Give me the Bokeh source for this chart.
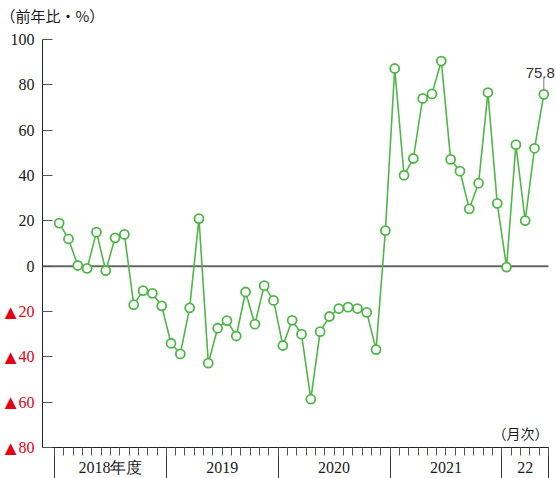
from bokeh.plotting import figure
from bokeh.models import (Range1d, LinearAxis, FixedTicker, Label,
                          LabelSet, ColumnDataSource)
from bokeh.embed import file_html
from bokeh.resources import INLINE

# Year-on-year change (%), monthly, FY2018 (April) to August 2022
values = [19, 12, 0.3, -1, 15, -2, 12.5, 14, -17, -10.8, -12, -17.5,
          -34, -38.7, -18.4, 21, -42.8, -27.4, -24, -30.8, -11.4, -25.6, -8.6, -15.1,
          -35, -23.9, -30, -58.7, -28.9, -22.2, -18.7, -18.1, -18.7, -20.4, -36.8, 15.7,
          87.2, 40.1, 47.5, 74, 76, 90.5, 47.1, 41.9, 25.3, 36.6, 76.6, 27.7,
          -0.4, 53.6, 20.1, 52, 75.8]
fiscal_years = ["2018年度", "2019", "2020", "2021", "22"]
months_per_year = [12, 12, 12, 12, 5]
y_ticks = [-80, -60, -40, -20, 0, 20, 40, 60, 80, 100]

W, H = 556, 478
# plotting area inside the canvas (px)
AX_LEFT, AX_RIGHT, AX_TOP, AX_BOTTOM = 42, 548, 39, 447
MONTHS_LEFT = 54  # first month starts here

GREEN = "#4fb747"
RED = "#e60012"
SERIF = "'Liberation Serif', 'Noto Sans CJK JP'"
CJK = "'Noto Sans CJK JP'"

n = len(values)
xs = list(range(n))
px_per_month = (AX_RIGHT - MONTHS_LEFT) / n
x_start = -0.5 - MONTHS_LEFT / px_per_month
x_end = (n - 0.5) + (W - AX_RIGHT) / px_per_month
y_lo, y_hi = y_ticks[0], y_ticks[-1]
px_per_unit = (AX_BOTTOM - AX_TOP) / (y_hi - y_lo)
y_end = y_hi + AX_TOP / px_per_unit
y_start = y_lo - (H - AX_BOTTOM) / px_per_unit


def dx(px):
    """canvas px from the left edge -> data x"""
    return x_start + px / px_per_month


def dy(px):
    """canvas px from the top edge -> data y"""
    return y_end - px / px_per_unit


p = figure(width=W, height=H, x_range=Range1d(x_start, x_end),
           y_range=Range1d(y_start, y_end), output_backend="svg",
           toolbar_location=None, x_axis_location=None, y_axis_location=None,
           min_border=0)
p.outline_line_color = None
p.grid.visible = False
p.background_fill_color = "white"
p.border_fill_color = "white"

# y axis: ticks point inward, negative labels drawn separately in red
yaxis = LinearAxis(ticker=FixedTicker(ticks=y_ticks),
                   fixed_location=dx(AX_LEFT), bounds=(y_lo, y_hi),
                   major_tick_in=10, major_tick_out=0,
                   minor_tick_in=0, minor_tick_out=0,
                   major_label_standoff=8,
                   major_label_text_font=SERIF,
                   major_label_text_font_size="16px",
                   major_label_text_color="#1a1a1a",
                   major_label_overrides={t: "" for t in y_ticks if t < 0},
                   axis_line_color="#222", major_tick_line_color="#555")
p.add_layout(yaxis, "left")

# negative values are written as a red triangle followed by the magnitude
neg = [t for t in y_ticks if t < 0]
neg_num = ColumnDataSource(dict(x=[dx(AX_LEFT - 8)] * len(neg), y=neg,
                                text=[str(-t) for t in neg]))
neg_tri = ColumnDataSource(dict(x=[dx(20)] * len(neg), y=neg,
                                text=["▲"] * len(neg)))
p.add_layout(LabelSet(source=neg_num, x="x", y="y", text="text",
                      text_align="right", text_baseline="middle",
                      text_color=RED, text_font=SERIF,
                      text_font_size="16px"))
p.add_layout(LabelSet(source=neg_tri, x="x", y="y", text="text",
                      text_align="right", text_baseline="middle",
                      text_color=RED, text_font="DejaVu Sans",
                      text_font_size="20px"))

# x axis: month ticks with fiscal-year separators
bounds = [-0.5]
for m in months_per_year:
    bounds.append(bounds[-1] + m)
month_bounds = [b - 0.5 for b in range(n + 1)]
xaxis = LinearAxis(ticker=FixedTicker(ticks=bounds, minor_ticks=month_bounds),
                   fixed_location=y_lo, bounds=(dx(AX_LEFT), bounds[-1]),
                   major_tick_in=0, major_tick_out=H - AX_BOTTOM,
                   minor_tick_in=0, minor_tick_out=8,
                   major_label_overrides={b: "" for b in bounds},
                   major_label_text_font_size="0px",
                   major_label_standoff=0,
                   axis_line_color="#222", major_tick_line_color="#333",
                   minor_tick_line_color="#555")
p.add_layout(xaxis, "below")

centers = [(bounds[i] + bounds[i + 1]) / 2 for i in range(len(fiscal_years))]
fy_src = ColumnDataSource(dict(x=centers, y=[dy(467)] * len(centers),
                               text=fiscal_years))
p.add_layout(LabelSet(source=fy_src, x="x", y="y", text="text",
                      text_align="center", text_baseline="middle",
                      text_color="#1a1a1a", text_font=SERIF,
                      text_font_size="16px"))

# zero line
p.segment(x0=[dx(AX_LEFT)], y0=[0], x1=[bounds[-1]], y1=[0],
          line_color="#666", line_width=2, level="underlay")

# series
p.line(xs, values, line_color=GREEN, line_width=1.6)
p.scatter(xs, values, size=9, fill_color="white", line_color=GREEN,
          line_width=1.8)

# latest value callout
last_x, last_v = xs[-1], values[-1]
p.segment(x0=[last_x], y0=[last_v + 4 / px_per_unit],
          x1=[last_x], y1=[last_v + 17 / px_per_unit],
          line_color="#777", line_width=1)
p.add_layout(Label(x=last_x, y=last_v, x_offset=11, y_offset=21,
                   text=f"{last_v}",
                   text_align="right", text_baseline="alphabetic",
                   text_color="#333", text_font="Liberation Sans",
                   text_font_size="15px"))

# unit captions
p.add_layout(Label(x=dx(0), y=dy(15), text="（前年比・%）",
                   text_align="left", text_baseline="middle",
                   text_color="#1a1a1a", text_font=CJK, text_font_size="15px"))
p.add_layout(Label(x=bounds[-1], y=dy(432), text="（月次）",
                   text_align="right", text_baseline="middle",
                   text_color="#1a1a1a", text_font=CJK, text_font_size="14px"))

open("out.html", "w").write(file_html(p, INLINE))
